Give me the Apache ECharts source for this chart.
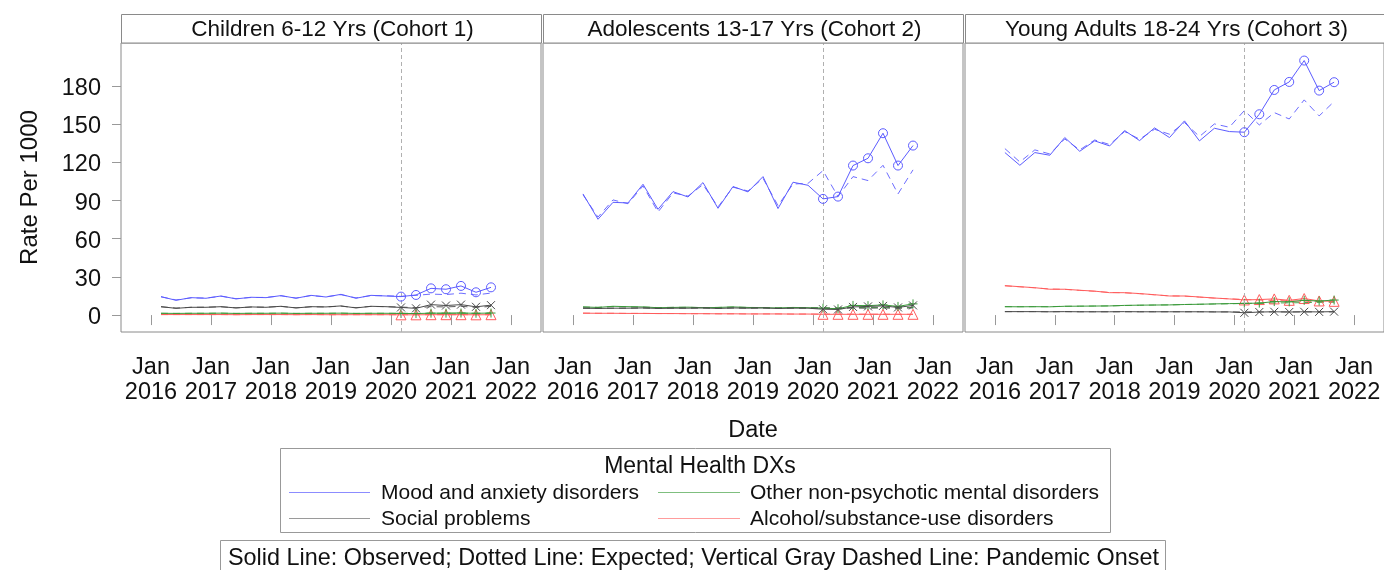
<!DOCTYPE html>
<html>
<head>
<meta charset="utf-8">
<script src="https://cdn.jsdelivr.net/npm/echarts@6/dist/echarts.min.js"></script>
<style>
  html, body { margin: 0; padding: 0; background: #fff; }
  #chart { width: 1384px; height: 570px; }
</style>
</head>
<body>
<div id="chart"></div>
<script>
// ---------------- DATA ----------------
const DATES = ['2016-03','2016-06','2016-09','2016-12','2017-03','2017-06','2017-09','2017-12',
               '2018-03','2018-06','2018-09','2018-12','2019-03','2019-06','2019-09','2019-12',
               '2020-03','2020-06','2020-09','2020-12','2021-03','2021-06','2021-09'];
const ONSET = '2020-03';
const COHORTS = ['Children 6-12 Yrs (Cohort 1)', 'Adolescents 13-17 Yrs (Cohort 2)', 'Young Adults 18-24 Yrs (Cohort 3)'];
const DX_NAMES = ['Mood and anxiety disorders', 'Other non-psychotic mental disorders', 'Social problems', 'Alcohol/substance-use disorders'];
const X_TICKS = [2016, 2017, 2018, 2019, 2020, 2021, 2022];
const Y_TICKS = [0, 30, 60, 90, 120, 150, 180];
const LEGEND_TITLE = 'Mental Health DXs';
const NOTE = 'Solid Line: Observed; Dotted Line: Expected; Vertical Gray Dashed Line: Pandemic Onset';

// Cohort 1: Children
const c1_mood_obs   = [14.5,11.6,13.7,13.2,15.0,12.7,14.0,13.7,15.3,13.2,15.5,14.2,16.3,13.2,15.5,15.0, 14.5,15.8,21.0,20.3,22.9,17.9,21.8];
const c1_mood_exp   = [14.3,11.9,13.5,13.4,14.8,12.9,13.8,13.9,15.1,13.4,15.3,14.4,16.0,13.5,15.3,15.2, 14.7,15.5,16.5,16.1,17.2,15.8,17.3];
const c1_other_obs  = [1.4,1.3,1.4,1.4,1.5,1.3,1.4,1.4,1.5,1.3,1.4,1.4,1.5,1.3,1.4,1.4, 1.3,1.2,1.5,1.5,1.6,1.4,1.6];
const c1_other_exp  = [1.4,1.3,1.4,1.4,1.5,1.3,1.4,1.4,1.5,1.3,1.4,1.4,1.5,1.3,1.4,1.4, 1.4,1.3,1.4,1.4,1.5,1.3,1.4];
const c1_social_obs = [6.6,5.3,6.1,6.1,6.6,5.6,6.4,6.1,6.9,5.6,6.6,6.4,7.2,5.6,6.9,6.6, 6.0,5.3,8.2,7.5,8.2,6.5,7.8];
const c1_social_exp = [6.5,5.5,6.1,6.2,6.5,5.7,6.3,6.2,6.8,5.7,6.5,6.4,7.0,5.8,6.8,6.6, 6.3,5.8,6.6,6.4,6.9,6.0,6.8];
const c1_alc_obs    = [0.4,0.4,0.4,0.4,0.4,0.3,0.4,0.4,0.4,0.3,0.4,0.3,0.3,0.3,0.3,0.3, 0.2,0.2,0.3,0.3,0.3,0.2,0.3];
const c1_alc_exp    = [0.4,0.4,0.4,0.4,0.4,0.3,0.4,0.4,0.4,0.3,0.4,0.3,0.3,0.3,0.3,0.3, 0.3,0.3,0.3,0.3,0.3,0.3,0.3];

// Cohort 2: Adolescents
const c2_mood_obs   = [95.2,75.3,88.6,88.1,102.8,83.1,97.0,92.8,104.1,83.9,101.0,96.8,108.8,83.7,104.4,102.0, 91.3,93.1,117.5,123.2,142.9,117.5,133.2];
const c2_mood_exp   = [94.5,77.0,90.5,87.5,101.5,81.0,96.0,93.5,102.5,85.0,100.5,97.5,107.5,86.0,103.0,103.5, 113.5,93.1,108.8,105.7,117.7,95.2,114.1];
const c2_other_obs  = [6.4,6.0,6.9,6.6,6.4,5.8,6.0,6.2,5.8,6.0,6.4,6.0,5.8,5.6,6.0,5.8, 5.4,5.0,7.6,7.4,8.0,6.8,8.8];
const c2_other_exp  = [6.3,6.1,6.7,6.5,6.3,5.9,6.1,6.1,5.9,6.0,6.3,6.0,5.9,5.7,5.9,5.8, 5.8,5.6,6.0,5.9,6.1,5.8,6.1];
const c2_social_obs = [5.4,5.2,5.4,5.4,5.6,5.2,5.4,5.4,5.6,5.2,5.6,5.4,5.6,5.2,5.4,5.4, 4.6,4.4,6.4,6.8,7.2,6.0,7.6];
const c2_social_exp = [5.4,5.3,5.4,5.4,5.5,5.3,5.4,5.4,5.5,5.3,5.5,5.4,5.5,5.3,5.4,5.4, 5.4,5.3,5.5,5.4,5.6,5.3,5.6];
const c2_alc_obs    = [1.5,1.4,1.4,1.3,1.3,1.2,1.2,1.1,1.1,1.0,1.0,0.9,0.9,0.9,0.8,0.8, 0.6,0.6,0.6,0.6,0.6,0.6,0.6];
const c2_alc_exp    = [1.5,1.4,1.4,1.3,1.3,1.2,1.2,1.1,1.1,1.0,1.0,0.9,0.9,0.9,0.8,0.8, 0.8,0.7,0.7,0.7,0.7,0.6,0.6];

// Cohort 3: Young adults
const c3_mood_obs   = [127.7,117.7,127.7,125.6,139.5,128.7,136.9,132.9,145.0,137.1,147.1,139.5,152.6,136.9,146.8,144.2, 143.7,157.8,176.9,183.2,200.0,176.4,183.0];
const c3_mood_exp   = [130.8,120.3,129.8,126.6,138.4,129.8,137.6,134.0,144.2,138.2,146.0,142.1,151.3,140.3,150.2,147.6, 160.7,149.4,159.1,154.1,169.1,156.5,167.8];
const c3_other_obs  = [6.6,6.5,6.6,6.5,6.9,7.0,7.1,7.2,7.6,7.8,7.9,8.0,8.3,8.5,8.8,9.0, 9.2,9.4,10.6,10.4,11.6,11.0,11.8];
const c3_other_exp  = [6.6,6.6,6.6,6.6,6.9,7.0,7.1,7.2,7.5,7.7,7.9,8.0,8.3,8.5,8.7,8.9, 9.1,9.3,9.5,9.6,9.8,10.0,10.2];
const c3_social_obs = [2.7,2.7,2.7,2.6,2.7,2.6,2.6,2.6,2.7,2.6,2.6,2.6,2.6,2.6,2.5,2.5, 1.8,2.4,2.6,2.4,2.6,2.5,2.7];
const c3_social_exp = [2.7,2.7,2.7,2.6,2.7,2.6,2.6,2.6,2.6,2.6,2.6,2.6,2.6,2.6,2.5,2.5, 2.5,2.5,2.5,2.5,2.5,2.5,2.5];
const c3_alc_obs    = [23.1,22.3,21.5,20.3,20.3,19.5,18.8,17.6,17.6,16.9,16.0,15.0,15.0,14.2,13.4,12.7, 11.9,12.2,12.7,11.6,13.0,11.1,10.8];
const c3_alc_exp    = [23.0,22.2,21.4,20.5,20.2,19.4,18.7,17.8,17.5,16.8,15.9,15.1,14.9,14.1,13.3,12.8, 12.3,11.8,11.5,11.2,10.9,10.6,10.3];

// ---------------- STYLE ----------------
const FONT = 'Liberation Sans, Arial, Helvetica, sans-serif';
const COLORS = ['#5c5cff', '#3a9a3a', '#4a4a4a', '#ff5c5c'];
const LEGEND_COLORS = ['#8c8cff', '#7fbf7f', '#9a9a9a', '#ff9c9c'];
const SYMBOLS = ['circle', 'path://M5,0L5,10M0,5L10,5', 'path://M0,0L10,10M10,0L0,10', 'triangle'];
const SYMBOL_SIZES = [9, 9, 8, 10];
const GRID_LEFTS = [121, 543, 965];
const GRID_W = 420, GRID_TOP = 43, GRID_H = 289;
const Y_MIN = -13.3, Y_MAX = 213.8;
const X_MIN = 2015.5, X_MAX = 2022.5;

const OBS = [
  [c1_mood_obs, c1_other_obs, c1_social_obs, c1_alc_obs],
  [c2_mood_obs, c2_other_obs, c2_social_obs, c2_alc_obs],
  [c3_mood_obs, c3_other_obs, c3_social_obs, c3_alc_obs]
];
const EXP = [
  [c1_mood_exp, c1_other_exp, c1_social_exp, c1_alc_exp],
  [c2_mood_exp, c2_other_exp, c2_social_exp, c2_alc_exp],
  [c3_mood_exp, c3_other_exp, c3_social_exp, c3_alc_exp]
];

function toYear(s) { const [y, m] = s.split('-').map(Number); return y + (m - 1) / 12; }
const XS = DATES.map(toYear);
const ONSET_X = toYear(ONSET);
const ONSET_IDX = DATES.indexOf(ONSET);

const grids = [], xAxes = [], yAxes = [], series = [], graphics = [];

for (let g = 0; g < 3; g++) {
  grids.push({ left: GRID_LEFTS[g], top: GRID_TOP, width: GRID_W, height: GRID_H,
    show: true, borderColor: '#8a8a8a', borderWidth: 1, backgroundColor: '#fff' });
  xAxes.push({
    gridIndex: g, type: 'value', min: X_MIN, max: X_MAX,
    axisLine: { show: false }, splitLine: { show: false },
    axisTick: { show: true, length: 10, customValues: X_TICKS, lineStyle: { color: '#999', width: 1 } },
    axisLabel: { customValues: X_TICKS, formatter: v => 'Jan\n' + v, fontFamily: FONT, fontSize: 23.5,
      lineHeight: 25, margin: 23, color: '#111', hideOverlap: false },
    name: g === 1 ? 'Date' : '', nameLocation: 'middle', nameGap: 87,
    nameTextStyle: { fontFamily: FONT, fontSize: 23.5, color: '#111' }
  });
  yAxes.push({
    gridIndex: g, type: 'value', min: Y_MIN, max: Y_MAX,
    axisLine: { show: false }, splitLine: { show: false },
    axisTick: { show: g === 0, length: 9, customValues: Y_TICKS, lineStyle: { color: '#999', width: 1 } },
    axisLabel: { show: g === 0, customValues: Y_TICKS, fontFamily: FONT, fontSize: 23.5, margin: 20,
      color: '#111', verticalAlign: 'top', lineHeight: 5 },
    name: g === 0 ? 'Rate Per 1000' : '', nameLocation: 'middle', nameGap: 79,
    nameTextStyle: { fontFamily: FONT, fontSize: 24, color: '#111' }
  });

  // draw order: alcohol, other, social, mood (mood on top)
  [3, 1, 2, 0].forEach((d, k) => {
    const exp = EXP[g][d], obs = OBS[g][d];
    series.push({
      type: 'line', name: DX_NAMES[d] + ' (expected)', xAxisIndex: g, yAxisIndex: g,
      data: exp.map((v, i) => [XS[i], v]), symbol: 'none', silent: true, z: 2 + k,
      lineStyle: { color: COLORS[d], width: 1, type: [7, 5], opacity: 0.9 }
    });
    const s = {
      type: 'line', name: DX_NAMES[d], xAxisIndex: g, yAxisIndex: g,
      data: obs.map((v, i) => i < ONSET_IDX ? { value: [XS[i], v], symbol: 'none' } : { value: [XS[i], v] }),
      symbol: SYMBOLS[d], symbolSize: SYMBOL_SIZES[d], showSymbol: true, showAllSymbol: true, silent: true,
      z: 3 + k,
      lineStyle: { color: COLORS[d], width: 1 },
      itemStyle: { color: 'transparent', borderColor: COLORS[d], borderWidth: 1 }
    };
    if (k === 0) {
      s.markLine = { silent: true, symbol: 'none', label: { show: false },
        lineStyle: { color: '#b0b0b0', type: [4, 3], width: 1 }, data: [{ xAxis: ONSET_X }] };
    }
    series.push(s);
  });

  // header strip
  graphics.push({ type: 'rect', z: 10,
    shape: { x: GRID_LEFTS[g] + 0.5, y: 14.5, width: GRID_W, height: 28.5 },
    style: { fill: '#fff', stroke: '#8a8a8a', lineWidth: 1 } });
  graphics.push({ type: 'text', z: 11,
    style: { text: COHORTS[g], x: GRID_LEFTS[g] + GRID_W / 2 + 1.5, y: 29.5, font: '22.5px ' + FONT, fill: '#111',
      textAlign: 'center', textVerticalAlign: 'middle', align: 'center', verticalAlign: 'middle' } });
}

// legend box
graphics.push({ type: 'rect', shape: { x: 280.5, y: 448.5, width: 830, height: 84 },
  style: { fill: '#fff', stroke: '#999', lineWidth: 1 } });
graphics.push({ type: 'text', style: { text: LEGEND_TITLE, x: 700, y: 467, font: '23px ' + FONT, fill: '#111',
  textAlign: 'center', textVerticalAlign: 'middle', align: 'center', verticalAlign: 'middle' } });
const LX0 = [289, 658], LX1 = [370, 740], LTX = [381, 750], LY = [492, 518];
DX_NAMES.forEach((name, d) => {
  const col = d % 2, row = Math.floor(d / 2);
  graphics.push({ type: 'line', shape: { x1: LX0[col], y1: LY[row] + 0.5, x2: LX1[col], y2: LY[row] + 0.5 },
    style: { stroke: LEGEND_COLORS[d], lineWidth: 1 } });
  graphics.push({ type: 'text', style: { text: name, x: LTX[col], y: LY[row] + 1, font: '21px ' + FONT, fill: '#111',
    textAlign: 'left', textVerticalAlign: 'middle', align: 'left', verticalAlign: 'middle' } });
});
// note box
graphics.push({ type: 'rect', shape: { x: 220.5, y: 540.5, width: 945, height: 40 },
  style: { fill: '#fff', stroke: '#999', lineWidth: 1 } });
graphics.push({ type: 'text', style: { text: NOTE, x: 228, y: 559, font: '23.4px ' + FONT, fill: '#111',
  textAlign: 'left', textVerticalAlign: 'middle', align: 'left', verticalAlign: 'middle' } });

const chart = echarts.init(document.getElementById('chart'), null, { renderer: 'canvas' });
chart.setOption({
  backgroundColor: '#fff',
  animation: false,
  grid: grids, xAxis: xAxes, yAxis: yAxes, series: series,
  graphic: graphics
});
</script>
</body>
</html>
